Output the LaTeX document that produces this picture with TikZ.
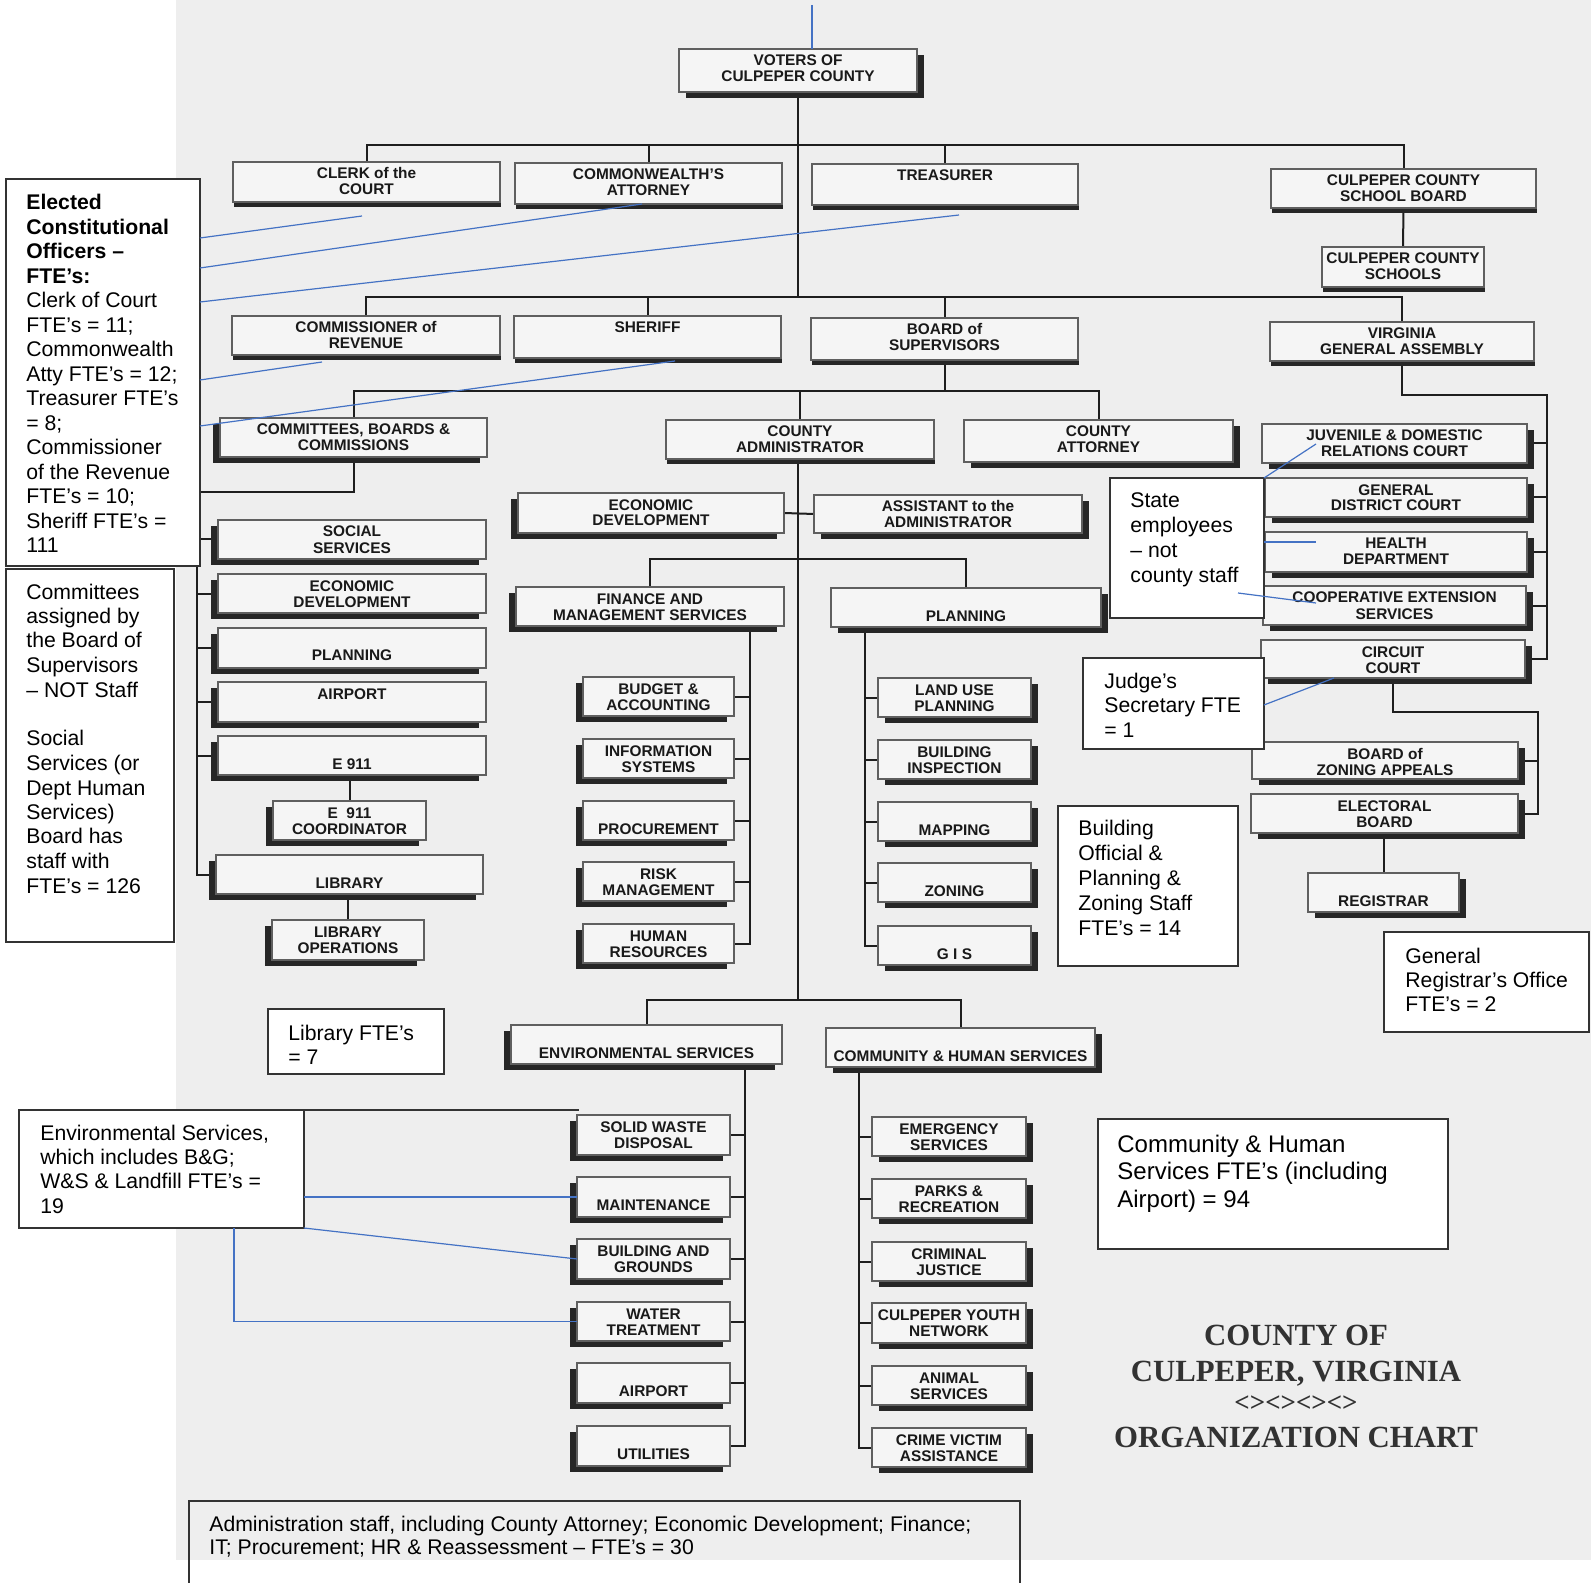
\documentclass[tikz,border=0pt]{standalone}
\usepackage{fontspec}
\setmainfont{Liberation Sans}
\newfontfamily\titlefont{Liberation Serif}
\usetikzlibrary{calc}
\pgfdeclarelayer{bglayer}
\pgfsetlayers{bglayer,main}
\definecolor{bgc}{RGB}{238,238,238}
\definecolor{boxc}{RGB}{245,245,245}
\definecolor{shadc}{RGB}{38,38,38}
\definecolor{edgec}{RGB}{95,95,95}
\definecolor{linec}{RGB}{30,30,30}
\definecolor{bluec}{RGB}{68,114,196}
\definecolor{txtc}{RGB}{25,25,25}
\definecolor{titc}{RGB}{50,50,50}
\tikzset{
 orgbox/.style={draw=edgec, line width=0.6pt, fill=boxc, inner sep=0pt, outer sep=0pt},
 lbl/.style={anchor=base, inner sep=0pt, font=\bfseries\fontsize{7.7}{8}\selectfont, text=txtc},
 conn/.style={draw=linec, line width=1pt},
 bl/.style={draw=bluec, line width=0.6pt},
 note/.style={draw=black!80, line width=0.8pt, fill=white, inner sep=0pt, outer sep=0pt},
 notetext/.style={anchor=base west, inner sep=0pt, text=black},
 ttl/.style={anchor=base, inner sep=0pt, text=titc, font=\titlefont\bfseries\fontsize{15.4}{18}\selectfont},
}
% name, x1, y1, x2, y2, shadow side, line 1, line 2
\newcommand\obox[8]{%
 \if#6L\fill[shadc] (#2-7,#3+6) rectangle (#4-7,#5+6);\fi
 \if#6R\fill[shadc] (#2+7,#3+6) rectangle (#4+7,#5+6);\fi
 \if#6B\fill[shadc] (#2+1,#3+5) rectangle (#4+1,#5+5);\fi
 \node[orgbox, minimum width={(#4-#2)*0.5pt}, minimum height={(#5-#3)*0.5pt}] (#1) at ({(#2+#4)/2},{(#3+#5)/2}) {};
 \node[lbl] (#1-a) at ({(#2+#4)/2},{#3+17}) {#7};
 \node[lbl] (#1-b) at ({(#2+#4)/2},{#3+33}) {#8};
}
% name, x1, y1, x2, y2
\newcommand\notebox[5]{%
 \node[note, minimum width={(#4-#2)*0.5pt}, minimum height={(#5-#3)*0.5pt}] (#1) at ({(#2+#4)/2},{(#3+#5)/2}) {};
}
\begin{document}
\begin{tikzpicture}[x=0.5pt,y=-0.5pt]
\useasboundingbox (0,0) rectangle (1591,1583);
\begin{pgfonlayer}{bglayer}
\fill[white] (0,0) rectangle (1591,1583);
\fill[bgc] (176,0) rectangle (1591,1560);
\end{pgfonlayer}

% ---------- boxes ----------
\obox{voters}{679}{49}{917}{92}{R}{VOTERS OF}{CULPEPER COUNTY}
\obox{clerk}{233}{162}{500}{202}{B}{CLERK of the}{COURT}
\obox{cwa}{515}{163}{782}{204}{B}{COMMONWEALTH'S}{ATTORNEY}
\obox{treas}{812}{164}{1078}{205}{B}{TREASURER}{}
\obox{schoolbd}{1271}{169}{1536}{208}{B}{CULPEPER COUNTY}{SCHOOL BOARD}
\obox{schools}{1322}{247}{1484}{287}{B}{CULPEPER COUNTY}{SCHOOLS}

\obox{comrev}{232}{316}{500}{355}{B}{COMMISSIONER of}{REVENUE}
\obox{sheriff}{514}{316}{781}{358}{B}{SHERIFF}{}
\obox{bos}{811}{318}{1078}{360}{B}{BOARD of}{SUPERVISORS}
\obox{vga}{1270}{322}{1534}{361}{B}{VIRGINIA}{GENERAL ASSEMBLY}

\obox{cbc}{220}{418}{487}{457}{L}{COMMITTEES, BOARDS \&}{COMMISSIONS}
\obox{cadmin}{666}{420}{934}{459}{B}{COUNTY}{ADMINISTRATOR}
\obox{catty}{964}{420}{1233}{462}{R}{COUNTY}{ATTORNEY}

\obox{jdr}{1262}{424}{1527}{463}{R}{JUVENILE \& DOMESTIC}{RELATIONS COURT}
\obox{gdc}{1265}{478}{1527}{517}{R}{GENERAL}{DISTRICT COURT}
\obox{health}{1265}{532}{1527}{572}{R}{HEALTH}{DEPARTMENT}
\obox{coop}{1263}{586}{1526}{625}{R}{COOPERATIVE EXTENSION}{SERVICES}
\obox{circuit}{1261}{640}{1525}{678}{R}{CIRCUIT}{COURT}
\obox{bza}{1252}{742}{1518}{779}{R}{BOARD of}{ZONING APPEALS}
\obox{elect}{1251}{794}{1518}{833}{R}{ELECTORAL}{BOARD}
\obox{registrar}{1308}{873}{1459}{912}{R}{}{REGISTRAR}

\obox{econc}{518}{493}{784}{533}{L}{ECONOMIC}{DEVELOPMENT}
\obox{asst}{814}{495}{1082}{533}{R}{ASSISTANT to the}{ADMINISTRATOR}
\obox{fin}{516}{587}{784}{626}{L}{FINANCE AND}{MANAGEMENT SERVICES}
\obox{plan}{831}{588}{1101}{627}{R}{}{PLANNING}

\obox{budget}{583}{677}{734}{716}{L}{BUDGET \&}{ACCOUNTING}
\obox{info}{583}{739}{734}{778}{L}{INFORMATION}{SYSTEMS}
\obox{proc}{583}{801}{734}{840}{L}{}{PROCUREMENT}
\obox{risk}{583}{862}{734}{901}{L}{RISK}{MANAGEMENT}
\obox{hr}{583}{924}{734}{963}{L}{HUMAN}{RESOURCES}

\obox{landuse}{878}{678}{1031}{717}{R}{LAND USE}{PLANNING}
\obox{bldg}{878}{740}{1031}{779}{R}{BUILDING}{INSPECTION}
\obox{mapping}{878}{802}{1031}{841}{R}{}{MAPPING}
\obox{zoning}{878}{863}{1031}{902}{R}{}{ZONING}
\obox{gis}{878}{926}{1031}{965}{R}{}{G I S}

\obox{social}{218}{520}{486}{559}{L}{SOCIAL}{SERVICES}
\obox{econl}{218}{574}{486}{613}{L}{ECONOMIC}{DEVELOPMENT}
\obox{planl}{218}{628}{486}{668}{L}{}{PLANNING}
\obox{airportl}{218}{682}{486}{722}{L}{AIRPORT}{}
\obox{e911}{218}{736}{486}{775}{L}{}{E 911}
\obox{coord}{273}{801}{426}{840}{L}{E\ \ 911}{COORDINATOR}
\obox{library}{216}{855}{483}{894}{L}{}{LIBRARY}
\obox{libops}{272}{920}{424}{960}{L}{LIBRARY}{OPERATIONS}

\obox{envs}{511}{1025}{782}{1064}{L}{}{ENVIRONMENTAL SERVICES}
\obox{swd}{577}{1115}{730}{1155}{L}{SOLID WASTE}{DISPOSAL}
\obox{maint}{577}{1177}{730}{1217}{L}{}{MAINTENANCE}
\obox{bgr}{577}{1239}{730}{1279}{L}{BUILDING AND}{GROUNDS}
\obox{wt}{577}{1302}{730}{1341}{L}{WATER}{TREATMENT}
\obox{airporte}{577}{1363}{730}{1403}{L}{}{AIRPORT}
\obox{util}{577}{1426}{730}{1466}{L}{}{UTILITIES}

\obox{chs}{826}{1028}{1095}{1067}{R}{}{COMMUNITY \& HUMAN SERVICES}
\obox{emerg}{872}{1117}{1026}{1156}{R}{EMERGENCY}{SERVICES}
\obox{parks}{872}{1179}{1026}{1218}{R}{PARKS \&}{RECREATION}
\obox{crim}{872}{1242}{1026}{1281}{R}{CRIMINAL}{JUSTICE}
\obox{youth}{872}{1303}{1026}{1343}{R}{CULPEPER YOUTH}{NETWORK}
\obox{animal}{872}{1366}{1026}{1405}{R}{ANIMAL}{SERVICES}
\obox{cva}{872}{1428}{1026}{1467}{R}{CRIME VICTIM}{ASSISTANCE}

% ---------- connectors ----------
\begin{pgfonlayer}{bglayer}
\coordinate (r1) at (366,145);
\coordinate (r2) at (366,297);
\coordinate (r3) at (354,391);
\coordinate (r4) at (650,559);
\coordinate (r5) at (798,1000);
\draw[conn] (clerk.north) |- (schoolbd.north |- r1) -- (schoolbd.north);
\draw[conn] (cwa.north) -- (cwa.north |- r1);
\draw[conn] (treas.north) -- (treas.north |- r1);
\draw[conn] (voters.south) -- (voters.south |- r2);
\draw[conn] (schoolbd.south) -- (schools.north);
\draw[conn] (comrev.north) |- (vga.north |- r2) -- (vga.north);
\draw[conn] (sheriff.north) -- (sheriff.north |- r2);
\draw[conn] (bos.north) -- (bos.north |- r2);
\draw[conn] (cbc.north) |- (catty.north |- r3) -- (catty.north);
\draw[conn] (bos.south) -- (bos.south |- r3);
\draw[conn] (cadmin.north) -- (cadmin.north |- r3);
\draw[conn] (cadmin.south -| r5) -- (r5);
\draw[conn] (econc.east) -- (asst.west);
\draw[conn] (fin.north) |- (plan.north |- r4) -- (plan.north);
\draw[conn] (envs.north) |- (chs.north |- r5) -- (chs.north);
% left bus
\coordinate (lb) at (197,492);
\draw[conn] (cbc.south) |- (lb) -- (lb |- library.west) -- (library.west);
\foreach \n in {social,econl,planl,airportl,e911} \draw[conn] (lb |- \n.west) -- (\n.west);
\draw[conn] (coord.north |- e911.south) -- (coord.north);
\draw[conn] (libops.north |- library.south) -- (libops.north);
% finance bus
\coordinate (fb) at (750,626);
\draw[conn] (fb) -- (fb |- hr.east) -- (hr.east);
\foreach \n in {budget,info,proc,risk} \draw[conn] (fb |- \n.east) -- (\n.east);
% planning bus
\coordinate (pb) at (865,627);
\draw[conn] (pb) -- (pb |- gis.west) -- (gis.west);
\foreach \n in {landuse,bldg,mapping,zoning} \draw[conn] (pb |- \n.west) -- (\n.west);
% environmental bus
\coordinate (eb) at (745,1064);
\draw[conn] (eb) -- (eb |- util.east) -- (util.east);
\foreach \n in {swd,maint,bgr,wt,airporte} \draw[conn] (eb |- \n.east) -- (\n.east);
% community bus
\coordinate (cb) at (859,1067);
\draw[conn] (cb) -- (cb |- cva.west) -- (cva.west);
\foreach \n in {emerg,parks,crim,youth,animal} \draw[conn] (cb |- \n.west) -- (\n.west);
% right bus
\coordinate (rb) at (1547,395);
\draw[conn] (vga.south) |- (rb) -- (rb |- circuit.east) -- (circuit.east);
\foreach \n in {jdr,gdc,health,coop} \draw[conn] (rb |- \n.east) -- (\n.east);
\coordinate (cb2) at (1538,712);
\draw[conn] (circuit.south) |- (cb2) -- (cb2 |- elect.east) -- (elect.east);
\draw[conn] (cb2 |- bza.east) -- (bza.east);
\draw[conn] (registrar.north |- elect.south) -- (registrar.north);
\end{pgfonlayer}

% ---------- note boxes ----------
\notebox{elected}{6}{179}{200}{566}
\node[notetext] (elected-t) at (26,210) {\vtop{\fontsize{10.6}{12.25}\selectfont
 \hbox{\bfseries Elected}\hbox{\bfseries Constitutional}\hbox{\bfseries Officers –}\hbox{\bfseries FTE’s:}
 \hbox{Clerk of Court}\hbox{FTE’s = 11;}\hbox{Commonwealth}\hbox{Atty FTE’s = 12;}\hbox{Treasurer FTE’s}
 \hbox{= 8;}\hbox{Commissioner}\hbox{of the Revenue}\hbox{FTE’s = 10;}\hbox{Sheriff FTE’s =}\hbox{111}}};

\notebox{cnote}{6}{569}{174}{942}
\node[notetext] (cnote-t) at (26,599) {\vtop{\fontsize{10.6}{12.25}\selectfont
 \hbox{Committees}\hbox{assigned by}\hbox{the Board of}\hbox{Supervisors}\hbox{– NOT Staff}\hbox{}
 \hbox{Social}\hbox{Services (or}\hbox{Dept Human}\hbox{Services)}\hbox{Board has}\hbox{staff with}\hbox{FTE’s = 126}}};

\notebox{libnote}{268}{1009}{444}{1074}
\node[notetext] (libnote-t) at (288,1040) {\vtop{\fontsize{10.6}{12}\selectfont
 \hbox{Library FTE’s}\hbox{= 7}}};

\notebox{envnote}{19}{1110}{304}{1228}
\draw[draw=black!80, line width=0.8pt] (envnote.north east) -- ++(275,0) coordinate (envtop);
\node[notetext] (envnote-t) at (40,1140) {\vtop{\fontsize{10.6}{12.2}\selectfont
 \hbox{Environmental Services,}\hbox{which includes B\&G;}\hbox{W\&S \& Landfill FTE’s =}\hbox{19}}};

\notebox{statenote}{1110}{478}{1264}{618}
\node[notetext] (statenote-t) at (1130,508) {\vtop{\fontsize{10.6}{12.5}\selectfont
 \hbox{State}\hbox{employees}\hbox{– not}\hbox{county staff}}};

\notebox{judge}{1083}{658}{1264}{749}
\node[notetext] (judge-t) at (1104,688) {\vtop{\fontsize{10.6}{12.4}\selectfont
 \hbox{Judge’s}\hbox{Secretary FTE}\hbox{= 1}}};

\notebox{bonote}{1058}{806}{1238}{966}
\node[notetext] (bonote-t) at (1078,835) {\vtop{\fontsize{10.6}{12.5}\selectfont
 \hbox{Building}\hbox{Official \&}\hbox{Planning \&}\hbox{Zoning Staff}\hbox{FTE’s = 14}}};

\notebox{regnote}{1384}{932}{1589}{1032}
\node[notetext] (regnote-t) at (1405,963) {\vtop{\fontsize{10.6}{12}\selectfont
 \hbox{General}\hbox{Registrar’s Office}\hbox{FTE’s = 2}}};

\notebox{chsnote}{1098}{1119}{1448}{1249}
\node[notetext] (chsnote-t) at (1117,1152) {\vtop{\fontsize{12}{13.75}\selectfont
 \hbox{Community \& Human}\hbox{Services FTE’s (including}\hbox{Airport) = 94}}};

\coordinate (adm1) at (189,1600);
\coordinate (adm2) at (1020,1600);
\draw[draw=black!80, line width=0.8pt] (adm1) -- (189,1501) -- (1020,1501) -- (adm2);
\node[notetext] (admnote-t) at (209,1531) {\vtop{\fontsize{10.6}{11.5}\selectfont
 \hbox{Administration staff, including County Attorney; Economic Development; Finance;}
 \hbox{IT; Procurement; HR \& Reassessment – FTE’s = 30}}};

% ---------- blue pointer lines ----------
\coordinate (v0) at (812,5);
\draw[bl] (v0) -- (voters.north -| v0);
\coordinate (e1) at (200,238); \coordinate (p1) at (362,216);
\coordinate (e2) at (200,268); \coordinate (p2) at (642,204);
\coordinate (e3) at (200,302); \coordinate (p3) at (959,215);
\coordinate (e4) at (200,380); \coordinate (p4) at (322,362);
\coordinate (e5) at (200,426); \coordinate (p5) at (675,361);
\draw[bl] (e1) -- (p1);
\draw[bl] (e2) -- (p2);
\draw[bl] (e3) -- (p3);
\draw[bl] (e4) -- (p4);
\draw[bl] (e5) -- (p5);
\coordinate (s1) at (1316,444);
\coordinate (s2) at (1316,542);
\coordinate (s3s) at (1238,593); \coordinate (s3) at (1316,603);
\draw[bl] (statenote.north east) -- (s1);
\draw[bl] (statenote.east |- s2) -- (s2);
\draw[bl] (s3s) -- (s3);
\coordinate (j1) at (1334,678);
\draw[bl] (judge.east |- 0,705) -- (j1);
\draw[bl] (envnote.east |- maint.west) -- (maint.west);
\draw[bl] (envnote.south east) -- (bgr.west);
\coordinate (ev) at (234,1228);
\draw[bl] (ev) |- (wt.west);

% ---------- title ----------
\node[ttl] (title1) at (1296,1345) {COUNTY OF};
\node[ttl] (title2) at (1296,1381) {CULPEPER, VIRGINIA};
\node[ttl, font=\titlefont\bfseries\fontsize{13.5}{15}\selectfont] (title3) at (1296,1411) {<><><><>};
\node[ttl] (title4) at (1296,1447) {ORGANIZATION CHART};
\end{tikzpicture}
\end{document}
